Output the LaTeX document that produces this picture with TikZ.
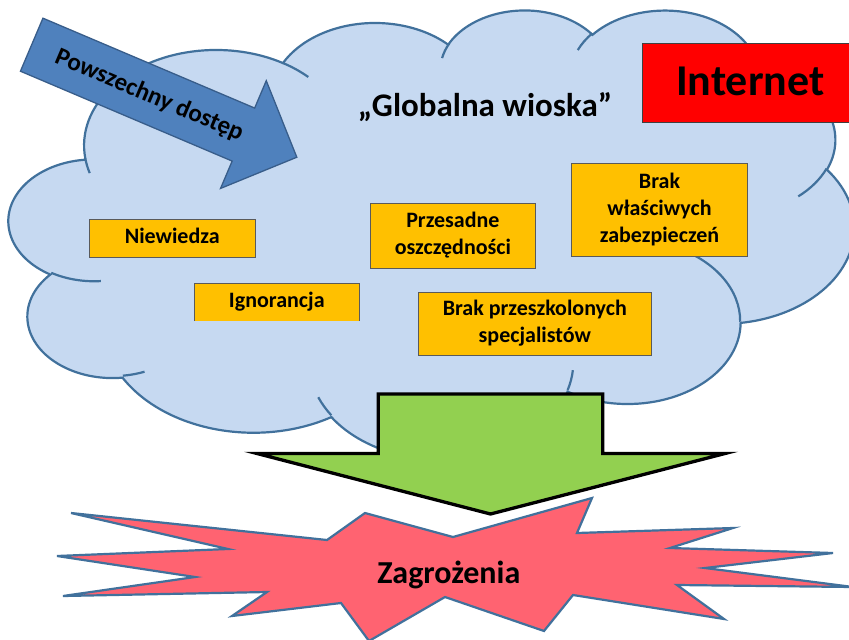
\documentclass[tikz,border=0pt]{standalone}
\usepackage{fontspec}
\setmainfont{Carlito}
\definecolor{cloudfill}{HTML}{C6D9F1}
\definecolor{cloudline}{HTML}{41719C}
\definecolor{arrowblue}{HTML}{4F81BD}
\definecolor{arrowline}{HTML}{385D8A}
\definecolor{boxorange}{HTML}{FFC000}
\definecolor{boxline}{HTML}{5A5A5A}
\definecolor{greenfill}{HTML}{92D050}
\definecolor{boomfill}{HTML}{FF6371}
\makeatletter
\newcommand\cloudpang[4]{%
  \pgfmathsetmacro\cl@a{#2}%
  \pgfmathsetmacro\cl@b{atan2((#3)*sin(\cl@a),(#4)*cos(\cl@a))}%
  \pgfmathsetmacro#1{\cl@b+360*round((\cl@a-\cl@b)/360)}%
}
\makeatother
\tikzset{
  obox/.style={draw=boxline, line width=0.8pt, fill=boxorange, inner sep=0pt,
    align=center, font=\fontsize{22}{27}\selectfont\bfseries},
  oboxopen/.style={obox, draw=none},
  cloudedge/.style={draw=cloudline, line width=2.2pt},
}
\begin{document}
\begin{tikzpicture}[x=1pt, y=-1pt]
\useasboundingbox (0,0) rectangle (849,640);
\fill[white] (0,0) rectangle (849,640);
% cloud arc angles (visual -> parametric)
\cloudpang\CsA{-190.4875}{67.53}{91.90}\cloudpang\CeA{-190.4875+123.7805}{67.53}{91.90}
\cloudpang\CsB{-144.1024}{53.33}{72.67}\cloudpang\CeB{-144.1024+89.9452}{53.33}{72.67}
\cloudpang\CsC{-145.8079}{43.65}{59.45}\cloudpang\CeC{-145.8079+99.7230}{43.65}{59.45}
\cloudpang\CsD{-130.9861}{48.57}{65.95}\cloudpang\CeD{-130.9861+117.2417}{48.57}{65.95}
\cloudpang\CsE{-78.7089}{53.33}{72.73}\cloudpang\CeE{-78.7089+109.0269}{53.33}{72.73}
\cloudpang\CsF{-46.2673}{67.75}{92.20}\cloudpang\CeF{-46.2673+130.2690}{67.75}{92.20}
\cloudpang\CsG{0.6250}{57.85}{78.67}\cloudpang\CeG{0.6250+114.0333}{57.85}{78.67}
\cloudpang\CsH{22.4516}{67.52}{92.15}\cloudpang\CeH{22.4516+115.1726}{67.52}{92.15}
\cloudpang\CsI{66.2426}{77.20}{105.43}\cloudpang\CeI{66.2426+75.7110}{77.20}{105.43}
\cloudpang\CsJ{-274.9421}{43.60}{59.18}\cloudpang\CeJ{-274.9421+146.7356}{43.60}{59.18}
\cloudpang\CsK{-246.8285}{43.45}{59.45}\cloudpang\CeK{-246.8285+152.5200}{43.45}{59.45}
% tails
\cloudpang\TsA{86.7420}{43.45}{59.45}\cloudpang\TeA{86.7420+26.4295}{43.45}{59.45}
\cloudpang\TsB{73.6105}{43.60}{59.18}\cloudpang\TeB{73.6105+11.4475}{43.60}{59.18}
\cloudpang\TsC{137.6242}{67.52}{92.15}\cloudpang\TeC{137.6242+14.0811}{67.52}{92.15}
\cloudpang\TsD{6.4533}{67.52}{92.15}\cloudpang\TeD{6.4533+15.9984}{67.52}{92.15}
\cloudpang\TsE{-70.2924}{57.85}{78.67}\cloudpang\TeE{-70.2924+70.9174}{57.85}{78.67}
\cloudpang\TsF{30.3180}{53.33}{72.73}\cloudpang\TeF{30.3180+27.7515}{53.33}{72.73}
\cloudpang\TsG{-13.7443}{48.57}{65.95}\cloudpang\TeG{-13.7443+14.8589}{48.57}{65.95}
\cloudpang\TsH{-149.1815}{48.57}{65.95}\cloudpang\TeH{-149.1815+18.1954}{48.57}{65.95}
\cloudpang\TsI{-163.4943}{43.65}{59.45}\cloudpang\TeI{-163.4943+17.6864}{43.65}{59.45}
\cloudpang\TsJ{-66.7070}{67.53}{91.90}\cloudpang\TeJ{-66.7070+12.3194}{67.53}{91.90}
\cloudpang\TsK{157.6544}{67.53}{91.90}\cloudpang\TeK{157.6544+11.8582}{67.53}{91.90}

% ---------- cloud ----------
\begin{scope}[shift={(9,9)}, x=1.95602pt, y=-1.03935pt]
\filldraw[fill=cloudfill, cloudedge] (39,143.7)
  arc[start angle=\CsA, end angle=\CeA, x radius=67.53, y radius=91.90]
  arc[start angle=\CsB, end angle=\CeB, x radius=53.33, y radius=72.67]
  arc[start angle=\CsC, end angle=\CeC, x radius=43.65, y radius=59.45]
  arc[start angle=\CsD, end angle=\CeD, x radius=48.57, y radius=65.95]
  arc[start angle=\CsE, end angle=\CeE, x radius=53.33, y radius=72.73]
  arc[start angle=\CsF, end angle=\CeF, x radius=67.75, y radius=92.20]
  arc[start angle=\CsG, end angle=\CeG, x radius=57.85, y radius=78.67]
  arc[start angle=\CsH, end angle=\CeH, x radius=67.52, y radius=92.15]
  arc[start angle=\CsI, end angle=\CeI, x radius=77.20, y radius=105.43]
  arc[start angle=\CsJ, end angle=\CeJ, x radius=43.60, y radius=59.18]
  arc[start angle=\CsK, end angle=\CeK, x radius=43.45, y radius=59.45]
  -- cycle;
\draw[cloudedge]
  (46.93,261.77) arc[start angle=\TsA, end angle=\TeA, x radius=43.45, y radius=59.45]
  (69.28,348.99) arc[start angle=\TsB, end angle=\TeB, x radius=43.60, y radius=59.18]
  (164.78,390.90) arc[start angle=\TsC, end angle=\TeC, x radius=67.52, y radius=92.15]
  (288.27,347.51) arc[start angle=\TsD, end angle=\TeD, x radius=67.52, y radius=92.15]
  (341.29,229.54) arc[start angle=\TsE, end angle=\TeE, x radius=57.85, y radius=78.67]
  (417.98,153.54) arc[start angle=\TsF, end angle=\TeF, x radius=53.33, y radius=72.73]
  (383.24,54.26) arc[start angle=\TsG, end angle=\TeG, x radius=48.57, y radius=65.95]
  (290.78,39.52) arc[start angle=\TsH, end angle=\TeH, x radius=48.57, y radius=65.95]
  (221.41,47.20) arc[start angle=\TsI, end angle=\TeI, x radius=43.65, y radius=59.45]
  (140.00,51.92) arc[start angle=\TsJ, end angle=\TeJ, x radius=67.53, y radius=91.90]
  (41.27,157.89) arc[start angle=\TsK, end angle=\TeK, x radius=67.53, y radius=91.90];
\end{scope}

% ---------- texts and boxes in the cloud ----------
\node[font=\fontsize{33}{40}\selectfont\bfseries, anchor=base] (gw) at (485,116.7) {„Globalna wioska”};

\node[obox, minimum width=165.7pt, minimum height=38pt] (niewiedza) at (172.2,238.3) {Niewiedza\strut};
\node[oboxopen, minimum width=165pt, minimum height=37.4pt] (ignorancja) at (276.8,302) {Ignorancja\strut};
\draw[draw=boxline, line width=0.8pt] (ignorancja.south west) -- (ignorancja.north west)
  -- (ignorancja.north east) -- (ignorancja.south east);
\node[obox, minimum width=165.7pt, minimum height=65.3pt] (przesadne) at (452.9,235.7) {Przesadne\strut\\oszczędności\strut};
\node[obox, minimum width=175.7pt, minimum height=93.3pt] (zabezp) at (659.5,210) {Brak\strut\\właściwych\strut\\zabezpieczeń\strut};
\node[obox, minimum width=233.7pt, minimum height=63pt] (specj) at (534.8,323.5) {Brak przeszkolonych\strut\\specjalistów\strut};

% ---------- blue arrow ----------
\begin{scope}[shift={(31.7,44.7)}, rotate=-23]
\filldraw[fill=arrowblue, draw=arrowline, line width=1.3pt, line join=miter]
  (0,-28.8) -- (230,-28.8) -- (230,-58.5) -- (288,0) -- (230,58.5) -- (230,28.8) -- (0,28.8) -- cycle;
\node[rotate=-23, anchor=base, font=\fontsize{25}{30}\selectfont\bfseries] (dostep) at (128,7.5) {Powszechny dostęp};
\end{scope}

% ---------- Internet ----------
\node[draw=black!75, line width=0.8pt, fill=red, minimum width=215.2pt, minimum height=79.4pt,
  inner sep=0pt, text height=28pt, text depth=4pt, font=\fontsize{44}{53}\selectfont\bfseries]
  (internet) at (750.3,83) {Internet};

% ---------- green arrow ----------
\filldraw[fill=greenfill, draw=black, line width=3.3pt]
  (378.3,394) -- (602.7,394) -- (602.7,453.5) -- (725,453.5) -- (490.5,514)
  -- (257,453.5) -- (378.3,453.5) -- cycle;

% ---------- explosion ----------
\filldraw[fill=boomfill, draw=cloudline, line width=2.2pt, line join=miter]
  (365,513) -- (453,537) -- (592,498) -- (577,533) -- (733,528) -- (670,548)
  -- (833,553) -- (705,568) -- (853,587) -- (677,585) -- (724,619) -- (573,595)
  -- (544,631) -- (445,597) -- (369,641) -- (341,603) -- (232,616) -- (267,592)
  -- (63,596) -- (195,577) -- (57,556) -- (228,549) -- (71,513) -- (327,540) -- cycle;
\node[font=\fontsize{32}{38}\selectfont\bfseries, anchor=base] (zagrozenia) at (448.8,583.3) {Zagrożenia};
\end{tikzpicture}
\end{document}
